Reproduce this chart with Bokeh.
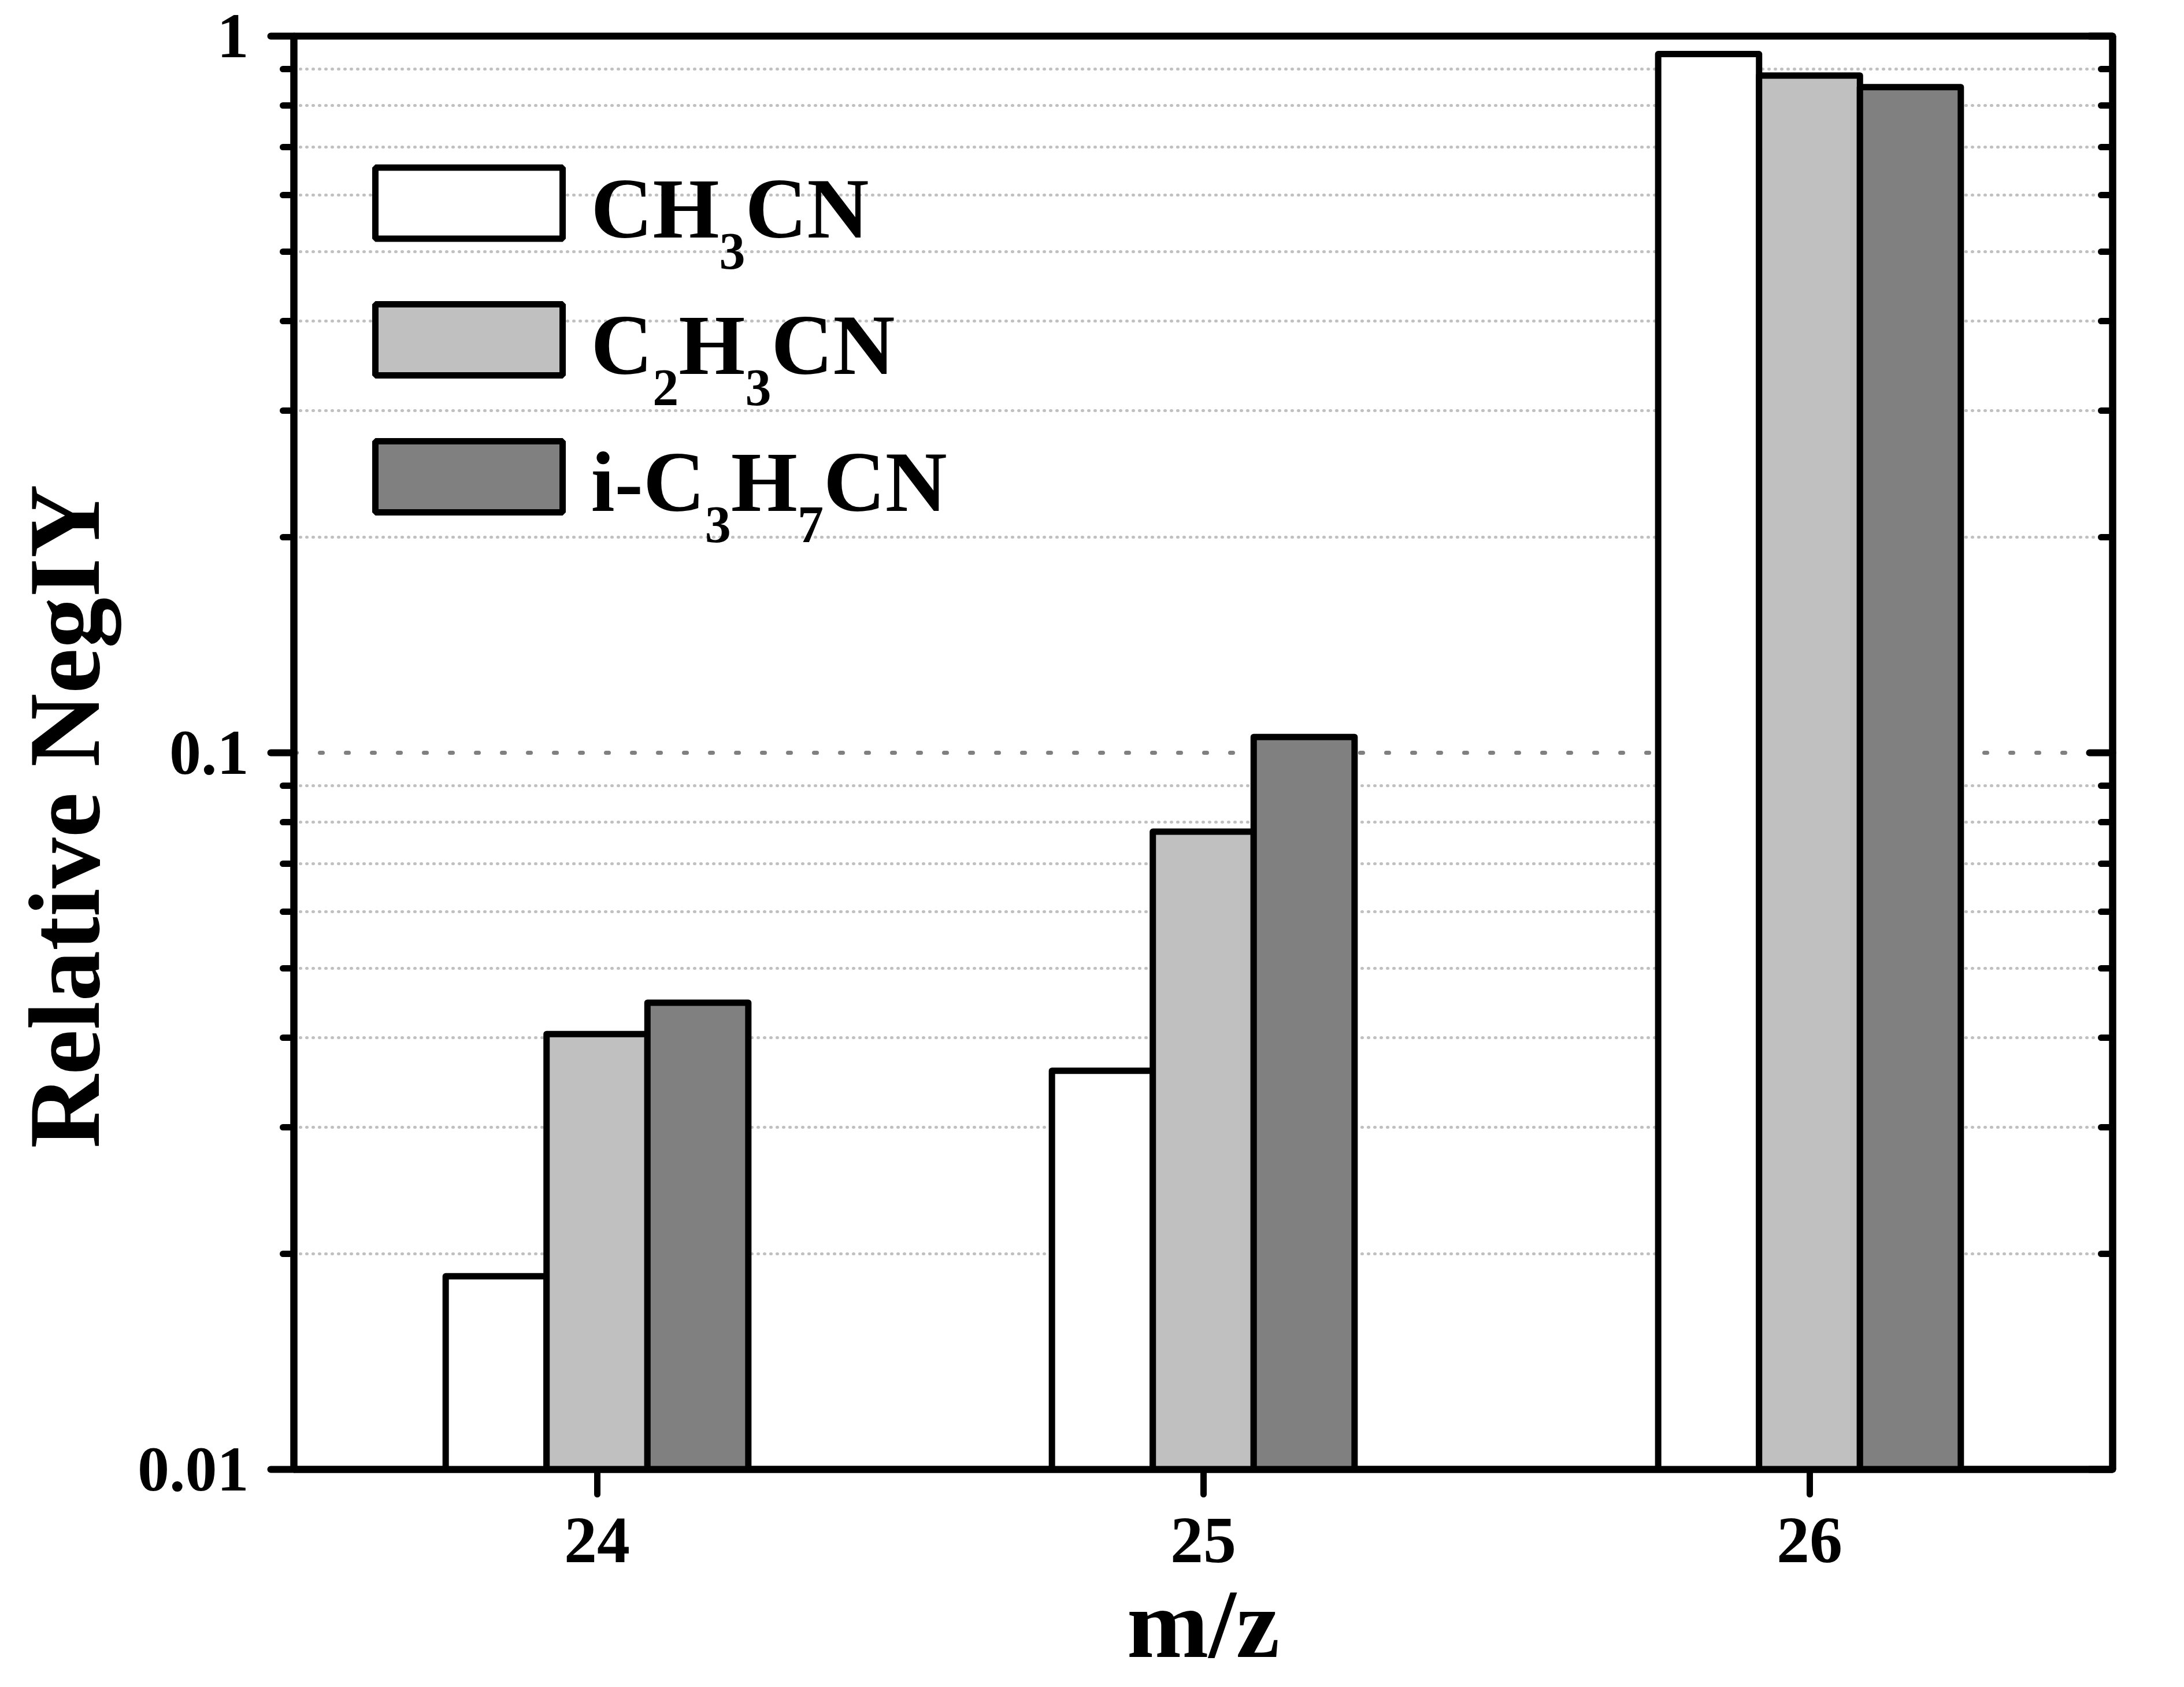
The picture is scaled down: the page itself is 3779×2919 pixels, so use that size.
import math
from bokeh.plotting import figure
from bokeh.models import (Range1d, FactorRange, FixedTicker, LogAxis, Label,
                          BoxAnnotation, CustomJSTickFormatter, ColumnDataSource)
from bokeh.transform import dodge
from bokeh.embed import file_html
from bokeh.resources import INLINE

# ---- data ----
mz = ["24", "25", "26"]
ch3cn = [0.0186, 0.0360, 0.944]
c2h3cn = [0.0405, 0.0776, 0.881]
ic3h7cn = [0.0448, 0.1052, 0.849]
series_keys = ["ch3cn", "c2h3cn", "ic3h7cn"]
series_names = ["CH3CN", "C2H3CN", "i-C3H7CN"]
series_colors = ["#ffffff", "#c0c0c0", "#808080"]
y_major = [0.01, 0.1, 1]
y_tick_labels = ["0.01", "0.1", "1"]
y_minor = [m * 10 ** e for e in (-2, -1) for m in range(2, 10)]
x_label = "m/z"
y_label = "Relative NegIY"

FONT = "Liberation Serif"

# frame geometry (figure pixels)
W, H = 3760, 2911
FL, FT, FR, FB = 508, 62, 3655, 2542

p = figure(width=W, height=H,
           x_range=FactorRange(factors=mz, range_padding=0),
           y_range=Range1d(0.01, 1), y_axis_type="log",
           output_backend="svg", toolbar_location=None,
           min_border_left=FL, min_border_right=W - FR,
           min_border_top=FT, min_border_bottom=H - FB)
p.background_fill_color = "white"
p.border_fill_color = "white"
p.outline_line_color = "black"
p.outline_line_width = 12

source = ColumnDataSource(dict(mz=mz, ch3cn=ch3cn, c2h3cn=c2h3cn, ic3h7cn=ic3h7cn))
bw = 0.1664
for i, (key, col) in enumerate(zip(series_keys, series_colors)):
    p.vbar(x=dodge("mz", (i - 1) * bw, range=p.x_range), top=key, bottom=0.01,
           width=bw, fill_color=col, line_color="black", line_width=11,
           line_join="round", source=source)

# grid
p.xgrid.grid_line_color = None
p.ygrid.grid_line_color = "#808080"
p.ygrid.grid_line_width = 7
p.ygrid.grid_line_dash = "5 40"
p.ygrid.grid_line_cap = "round"
p.ygrid.minor_grid_line_color = "#c0c0c0"
p.ygrid.minor_grid_line_width = 5
p.ygrid.minor_grid_line_dash = "1 10"
p.ygrid.minor_grid_line_cap = "round"

fmt = CustomJSTickFormatter(args=dict(ymaj=y_major, ylabs=y_tick_labels), code="""
let best = -1, bd = 1e9;
for (let i = 0; i < ymaj.length; i++) {
  const d = Math.abs(Math.log10(ymaj[i]) - Math.log10(tick));
  if (d < bd) { bd = d; best = i; }
}
return (best >= 0 && bd < 1e-6) ? ylabs[best] : '';
""")

ya = p.yaxis[0]
ya.ticker = FixedTicker(ticks=y_major, minor_ticks=y_minor)
ya.formatter = fmt
ya.axis_line_width = 12
ya.major_tick_line_width = 12
ya.minor_tick_line_width = 11
ya.major_tick_line_cap = "round"
ya.minor_tick_line_cap = "round"
ya.major_tick_out = 40
ya.major_tick_in = 0
ya.minor_tick_out = 19
ya.minor_tick_in = 0
ya.major_label_text_font = FONT
ya.major_label_text_font_style = "bold"
ya.major_label_text_font_size = "110px"
ya.major_label_text_color = "black"
ya.major_label_standoff = 38
# title, padded with no-break spaces so that it sits a little below centre like the original
ya.axis_label = y_label + "\u00a0" * 5
ya.axis_label_text_font = FONT
ya.axis_label_text_font_style = "bold"
ya.axis_label_text_font_size = "176px"
ya.axis_label_text_color = "black"
ya.axis_label_standoff = 26

ra = LogAxis(ticker=FixedTicker(ticks=y_major, minor_ticks=y_minor),
             major_label_text_font_size="1px", major_label_text_alpha=0.0,
             axis_line_width=12, major_tick_line_width=12, minor_tick_line_width=11,
             major_tick_in=40, major_tick_out=0, minor_tick_in=20, minor_tick_out=0,
             major_tick_line_cap="round", minor_tick_line_cap="round",
             major_label_standoff=0)
p.add_layout(ra, "right")

xa = p.xaxis[0]
xa.axis_line_width = 12
xa.major_tick_line_width = 11
xa.major_tick_line_cap = "round"
xa.major_tick_out = 43
xa.major_tick_in = 0
xa.minor_tick_line_color = None
xa.major_label_text_font = FONT
xa.major_label_text_font_style = "bold"
xa.major_label_text_font_size = "114px"
xa.major_label_text_color = "black"
xa.major_label_standoff = 42
xa.axis_label = x_label
xa.axis_label_text_font = FONT
xa.axis_label_text_font_style = "bold"
xa.axis_label_text_font_size = "170px"
xa.axis_label_text_color = "black"
xa.axis_label_standoff = 10

# helper: figure px (from top-left) -> frame-relative screen coords
def sx(px):
    return px - FL

def sy(py):
    return FB - py

# legend (swatches + formula text with subscripts)
ADV = {"C": 722, "H": 778, "N": 722, "i": 278, "-": 333}
MAIN, SUB = 148, 90
box_left, box_right = 649, 973
box_centers = [351, 587.5, 824.5]
box_h = 123
text_x0 = 1022
for name, col, cy in zip(series_names, series_colors, box_centers):
    p.add_layout(BoxAnnotation(left=sx(box_left), right=sx(box_right),
                               top=sy(cy - box_h / 2), bottom=sy(cy + box_h / 2),
                               left_units="screen", right_units="screen",
                               top_units="screen", bottom_units="screen",
                               fill_color=col, fill_alpha=1.0,
                               line_color="black", line_width=11, line_alpha=1.0,
                               level="overlay"))
    runs = []
    for ch in name:
        is_sub = ch.isdigit()
        if runs and runs[-1][1] == is_sub:
            runs[-1][0] += ch
        else:
            runs.append([ch, is_sub])
    base = cy + 9
    x = text_x0
    for txt, is_sub in runs:
        size = SUB if is_sub else MAIN
        yb = base + 74 if is_sub else base
        p.add_layout(Label(x=sx(x), y=sy(yb), text=txt,
                           x_units="screen", y_units="screen",
                           text_align="left", text_baseline="alphabetic",
                           text_font=FONT, text_font_style="bold",
                           text_font_size=f"{size}px", text_color="black"))
        x += sum(ADV.get(c, 500) for c in txt) * size / 1000

open("out.html", "w").write(file_html(p, INLINE))
